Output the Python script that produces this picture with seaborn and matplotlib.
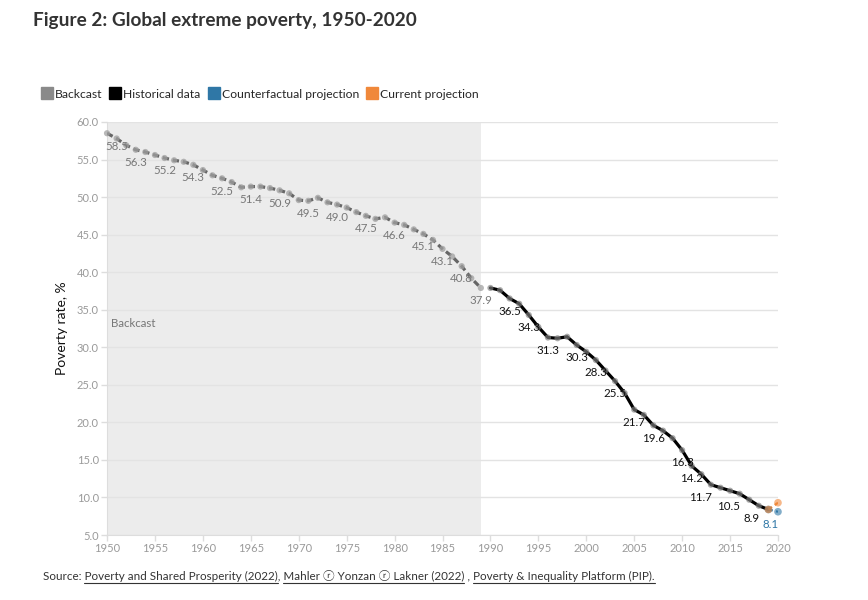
import numpy as np
import pandas as pd
import matplotlib
matplotlib.use('Agg')
import matplotlib.pyplot as plt
import seaborn as sns
from matplotlib.lines import Line2D

# data
backcast_years = list(range(1950, 1990))
backcast_rate = [58.5, 57.8, 56.9, 56.3, 56.0, 55.6, 55.2, 54.9, 54.7, 54.3,
                 53.6, 52.9, 52.5, 52.0, 51.3, 51.4, 51.4, 51.2, 50.9, 50.5,
                 49.6, 49.5, 49.9, 49.3, 49.0, 48.6, 48.0, 47.5, 47.1, 47.3,
                 46.6, 46.3, 45.7, 45.1, 44.3, 43.1, 42.1, 40.8, 39.2, 37.9]
hist_years = list(range(1990, 2020))
hist_rate = [37.9, 37.6, 36.5, 35.8, 34.3, 32.7, 31.3, 31.2, 31.4, 30.3,
             29.4, 28.3, 26.9, 25.5, 23.9, 21.7, 21.0, 19.6, 18.9, 17.9,
             16.3, 14.2, 13.1, 11.7, 11.3, 10.9, 10.5, 9.7, 8.9, 8.4]
proj_years = [2019, 2020]
counterfactual_rate = [8.4, 8.1]
current_rate = [8.4, 9.3]

backcast_labels = [1950, 1953, 1956, 1959, 1962, 1965, 1968, 1971, 1974,
                   1977, 1980, 1983, 1985, 1987, 1989]
hist_labels = [1992, 1994, 1996, 1999, 2001, 2003, 2005, 2007, 2010, 2011,
               2013, 2016, 2018]

C_GREY, C_BLACK, C_BLUE, C_ORANGE = '#8a8a8a', '#000000', '#2f77a6', '#f0883a'

sns.set_style('white')
fam = ['Lato', 'DejaVu Sans', 'Noto Sans CJK SC']
plt.rcParams['font.family'] = fam

back = pd.DataFrame({'year': backcast_years, 'rate': backcast_rate})
hist = pd.DataFrame({'year': hist_years, 'rate': hist_rate})
cf = pd.DataFrame({'year': proj_years, 'rate': counterfactual_rate})
cur = pd.DataFrame({'year': proj_years, 'rate': current_rate})

fig = plt.figure(figsize=(8.68, 6.0), dpi=100)
ax = fig.add_axes([0.1233, 0.1083, 0.773, 0.6884])

ax.axvspan(1950, 1989, color='#ececec', zorder=0, lw=0)
ax.yaxis.grid(True, color='#e3e3e3', lw=1, zorder=0.5)

sns.lineplot(data=back, x='year', y='rate', ax=ax, color='#666666', lw=2.3,
             zorder=3)
ax.lines[-1].set_dashes([2.0, 1.2])
sns.scatterplot(data=back, x='year', y='rate', ax=ax, color='#a0a0a0', s=20,
                alpha=0.75, edgecolor='none', zorder=4, clip_on=False)

sns.lineplot(data=hist, x='year', y='rate', ax=ax, color=C_BLACK, lw=2.3, zorder=3)
sns.scatterplot(data=hist, x='year', y='rate', ax=ax, color='#808080', s=20,
                alpha=0.65, edgecolor='none', zorder=4)

for d, c in [(cf, C_BLUE), (cur, C_ORANGE)]:
    sns.lineplot(data=d, x='year', y='rate', ax=ax, color=c, lw=1.6, zorder=5)
    ax.lines[-1].set_dashes([2, 1.5])
    sns.scatterplot(data=d, x='year', y='rate', ax=ax, color=c, s=30,
                    alpha=0.6, edgecolor='none', zorder=6, clip_on=False)


def put_label(yr, val, color):
    ha, dx = 'center', 0
    if yr == 1950:
        ha, dx = 'left', -1
    elif yr > 2011:
        ha, dx = 'right', 0.5
    ax.annotate(f'{val:.1f}', (yr, val), xytext=(dx, -9.2),
                textcoords='offset points', ha=ha, va='center',
                fontsize=8.3, color=color, zorder=7)


for yr in backcast_labels:
    put_label(yr, backcast_rate[backcast_years.index(yr)], '#777777')
for yr in hist_labels:
    put_label(yr, hist_rate[hist_years.index(yr)], '#111111')
put_label(proj_years[-1], counterfactual_rate[-1], C_BLUE)

ax.text(1950.4, 33.1, 'Backcast', fontsize=8.3, color='#777777', va='center')

ax.set_xlim(1950, 2020)
ax.set_ylim(5, 60)
ax.set_xticks(np.arange(1950, 2021, 5))
ax.set_yticks(np.arange(5, 61, 5))
ax.set_yticklabels([f'{v:.1f}' for v in np.arange(5, 61, 5)])
ax.tick_params(axis='both', colors='#dddddd', labelcolor='#9a9a9a',
               labelsize=8, length=4, width=1, pad=2, left=True, bottom=True)
ax.set_xlabel('')
ax.set_ylabel('Poverty rate, %', fontsize=10, color='#111111', labelpad=6)
for s in ['top', 'right']:
    ax.spines[s].set_visible(False)
for s in ['left', 'bottom']:
    ax.spines[s].set_color('#dddddd')

fig.text(0.038, 0.966, 'Figure 2: Global extreme poverty, 1950-2020',
         fontsize=13.7, fontweight='bold', color='#333333', va='center')

handles = [Line2D([], [], marker='s', ls='', markersize=8.5, color=c)
           for c in [C_GREY, C_BLACK, C_BLUE, C_ORANGE]]
fig.legend(handles, ['Backcast', 'Historical data', 'Counterfactual projection',
                     'Current projection'], loc='center left',
           bbox_to_anchor=(0.049, 0.843), ncol=4, frameon=False,
           handlelength=0.7, handletextpad=0.3, columnspacing=0.75,
           fontsize=8.7, borderaxespad=0, borderpad=0)

# source line with underlined references
src = ('Source: Poverty and Shared Prosperity (2022), Mahler \u24e1 Yonzan '
       '\u24e1 Lakner (2022) , Poverty & Inequality Platform (PIP).')
links = ['Poverty and Shared Prosperity (2022)',
         'Mahler \u24e1 Yonzan \u24e1 Lakner (2022)',
         'Poverty & Inequality Platform (PIP).']
x0, y0 = 0.0495, 0.033
t = fig.text(x0, y0, src, fontsize=8.4, color='#333333', va='baseline')
fig.canvas.draw()
r = fig.canvas.get_renderer()
prop = t.get_fontproperties()
W, H = fig.bbox.width, fig.bbox.height


def tw(s):
    return (r.get_text_width_height_descent(s + 'X', prop, False)[0]
            - r.get_text_width_height_descent('X', prop, False)[0])


for lk in links:
    i = src.index(lk)
    xa = x0 * W + tw(src[:i])
    xb = x0 * W + tw(src[:i + len(lk)])
    yy = y0 * H - 2.5
    fig.add_artist(Line2D([xa / W, xb / W], [yy / H, yy / H],
                          transform=fig.transFigure, lw=0.8, color='#333333'))

fig.savefig('out.png', dpi=100)
